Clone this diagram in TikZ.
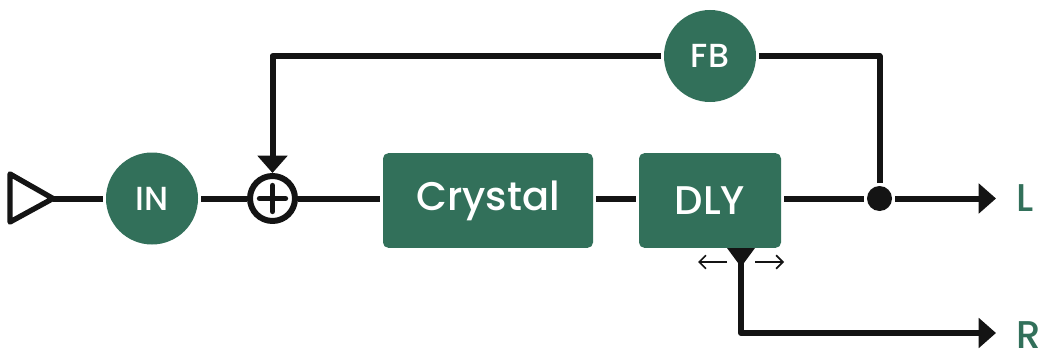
\documentclass[tikz,border=0pt]{standalone}
\usepackage{fontspec}
\IfFontExistsTF{Poppins Medium}{\setmainfont{Poppins Medium}}{\setmainfont{Poppins}}
\usetikzlibrary{arrows.meta, calc}
\definecolor{fxgreen}{HTML}{32705A}
\definecolor{wire}{HTML}{141414}

\begin{document}
\begin{tikzpicture}[x=0.75pt, y=-0.75pt, line width=4.5pt, line join=round, draw=wire,
    knob/.style={circle, fill=fxgreen, text=white, inner sep=0pt, minimum size=69pt,
        font=\fontsize{25}{25}\selectfont},
    block/.style={rectangle, rounded corners=4pt, fill=fxgreen, text=white, inner sep=0pt,
        minimum height=71pt, font=\fontsize{30}{30}\selectfont},
    outlabel/.style={text=fxgreen, anchor=west, inner sep=0pt, font=\fontsize{29}{29}\selectfont},
    tip/.style={-{Triangle[length=13pt, width=22pt]}}]
    \useasboundingbox (0,0) rectangle (1049,360);

    %mark points on the signal path
        \coordinate[] (in) at (53,198.5);
        \coordinate[] (tap) at (741,248);
        \coordinate[] (outL) at (996,198.5);
        \coordinate[] (outR) at (996,333);

    %blocks and knobs
        \node[knob] (IN) at (152,198.5) {IN};
        \node[draw, circle, minimum size=33.75pt, inner sep=0pt] (sum) at (272.5,198.5) {};
        \node[block, minimum width=157.5pt] (crystal) at (488,200.5) {Crystal};
        \node[block, minimum width=106.5pt] (dly) at (710,200.5) {DLY};
        \node[knob] (FB) at (710,56) {FB};
        \node[circle, fill=wire, inner sep=0pt, minimum size=18.75pt] (dot) at (879.5,198.5) {};
        \node[outlabel] (L) at (1013,198.5) {L};
        \node[outlabel] (R) at (1013,335) {R};

    %input triangle and plus sign
        \draw[line width=4pt] (in) -- (10,174) -- (10,222) -- cycle;
        \draw[line width=4pt, line cap=round] ($(sum)+(-13,0)$) -- ($(sum)+(13,0)$);
        \draw[line width=4pt, line cap=round] ($(sum)+(0,-13)$) -- ($(sum)+(0,13)$);

    %draw signal lines
        \draw (in) -- (IN);
        \draw (IN) -- (sum);
        \draw (sum) -- (sum -| crystal.west);
        \draw (crystal.east |- sum) -- (dly.west |- sum);
        \draw (dly.east |- sum) -- (dot);
        \draw[tip] (dot) -- (outL);
        \draw (dot) |- (FB);
        \draw[tip] (FB) -| (sum.north);

    %delay tap
        \fill[wire] (tap) ++(-14,0) -- ++(28,0) -- (741,267) -- cycle;
        \draw[tip] (tap) |- (outR);
        \draw[line width=1.3pt, -{Straight Barb[length=5pt, width=10pt]}] (727,262) -- (698,262);
        \draw[line width=1.3pt, -{Straight Barb[length=5pt, width=10pt]}] (755,262) -- (784,262);

\end{tikzpicture}
\end{document}
